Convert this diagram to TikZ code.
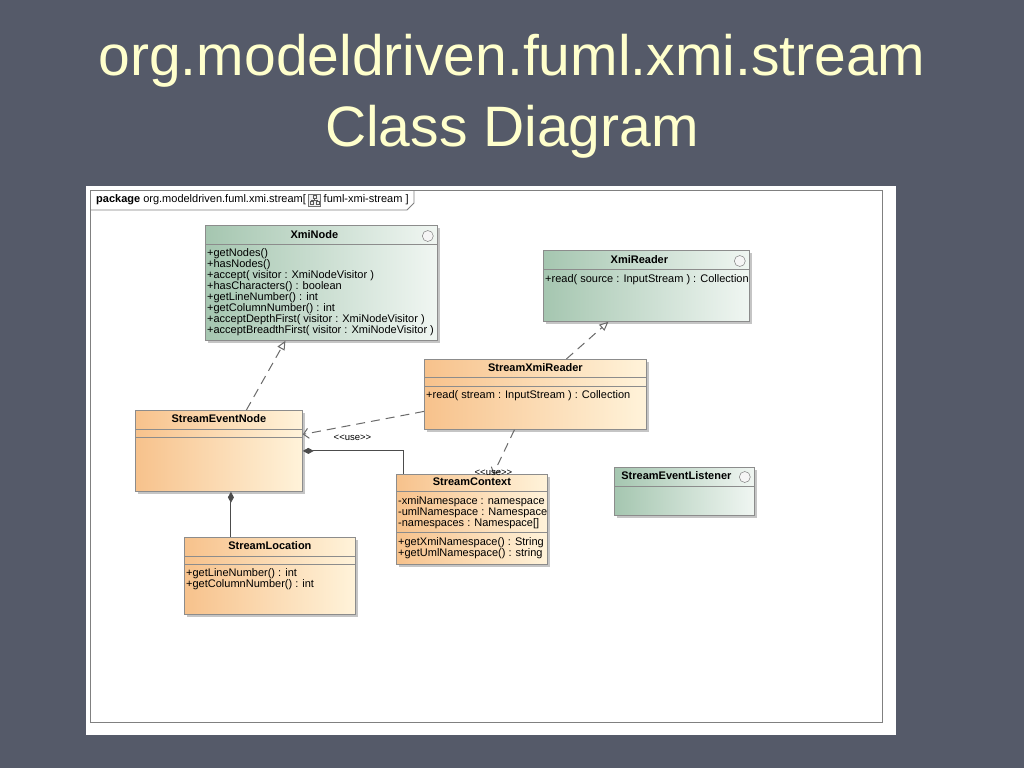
\documentclass[tikz,border=0pt]{standalone}
\usepackage{fontspec}
\setmainfont{Liberation Sans}
\usetikzlibrary{positioning, arrows.meta, calc, shadows}

\definecolor{slidebg}{HTML}{555A69}
\definecolor{titlecol}{HTML}{FFFFCC}
\definecolor{peach}{HTML}{F7C28C}
\definecolor{cream}{HTML}{FFF3DA}
\definecolor{sage}{HTML}{A5C6B0}
\definecolor{mint}{HTML}{F0F6F2}
\definecolor{umlline}{HTML}{6A6A6A}

\newcommand\umlsize{\fontsize{11}{11}\selectfont}

\begin{document}
\begin{tikzpicture}[
  x=1pt, y=-1pt,
  cls/.style={draw=black!45, line width=0.8pt, anchor=north west, inner sep=0pt,
    drop shadow={shadow xshift=3pt, shadow yshift=-3pt, fill=black!45, opacity=0.5}},
  impl/.style={cls, left color=peach, right color=cream},
  iface/.style={cls, left color=sage, right color=mint},
  cname/.style={font=\umlsize\bfseries, inner sep=0pt},
  members/.style={font=\umlsize, align=left, anchor=north west, inner sep=0pt},
  sep/.style={draw=black!45, line width=0.6pt},
  ifmark/.style={circle, draw=black!50, fill=black!4, line width=0.5pt, minimum size=11pt, inner sep=0pt},
  realize/.style={draw=umlline, line width=1pt, dash pattern=on 9pt off 6pt,
    -{Triangle[open, length=9pt, width=8pt]}},
  depend/.style={draw=umlline, line width=1pt, dash pattern=on 9pt off 6pt,
    -{Straight Barb[length=5pt, width=10pt]}},
  compose/.style={draw=black!70, line width=0.9pt, {Diamond[length=11pt, width=6pt]}-},
  uselbl/.style={font=\fontsize{9.5}{10}\selectfont, inner sep=0pt}
]

% slide and title
\fill[slidebg] (0,0) rectangle (1024,768);
\useasboundingbox (0,0) rectangle (1024,768);
\node[text=titlecol, font=\fontsize{57}{60}\selectfont, anchor=base] (title1) at (512,75) {org.modeldriven.fuml.xmi.stream};
\node[text=titlecol, font=\fontsize{57}{60}\selectfont, anchor=base] (title2) at (512,146) {Class Diagram};

% sheet and package frame
\fill[white] (86,186) rectangle (896,735);
\draw[black!50, line width=0.8pt] (90,190) rectangle (882,722);
\draw[black!50, line width=0.8pt] (90,210) -- (407,210) -- (414,203) -- (414,190);
\node[anchor=west, font=\umlsize, inner sep=0pt] (pkg) at (96,200) {\textbf{package} org.modeldriven.fuml.xmi.stream[};
\node[draw=black!55, fill=black!6, minimum size=12pt, inner sep=0pt, right=2pt of pkg] (pkgicon) {};
\node[font=\umlsize, inner sep=0pt, right=3pt of pkgicon] (pkgname) {fuml-xmi-stream ]};
\begin{scope}[shift={(pkgicon.center)}, black!65, line width=0.4pt]
  \draw (-1.5,-4.5) rectangle (1.5,-2);
  \draw (0,-2) -- (0,0) (-3,0) -- (3,0) (-3,0) -- (-3,1.5) (3,0) -- (3,1.5);
  \draw (-4.5,1.5) rectangle (-1.5,4.5) (1.5,1.5) rectangle (4.5,4.5);
\end{scope}

% interfaces
\node[iface, minimum width=232pt, minimum height=115pt] (xmin) at (205,225) {};
\node[cname, below=5pt of xmin.north, xshift=-7pt] (xminname) {XmiNode};
\node[ifmark] (xminmark) at ([xshift=-10pt, yshift=-11pt]xmin.north east) {};
\draw[sep] ([yshift=-19pt]xmin.north west) -- ([yshift=-19pt]xmin.north east);
\node[members] (xminops) at ([xshift=2pt, yshift=-23pt]xmin.north west)
  {+getNodes()\\+hasNodes()\\+accept( visitor : XmiNodeVisitor )\\+hasCharacters() : boolean\\
   +getLineNumber() : int\\+getColumnNumber() : int\\+acceptDepthFirst( visitor : XmiNodeVisitor )\\
   +acceptBreadthFirst( visitor : XmiNodeVisitor )};

\node[iface, minimum width=206pt, minimum height=71pt] (xrd) at (543,250) {};
\node[cname, below=5pt of xrd.north, xshift=-7pt] (xrdname) {XmiReader};
\node[ifmark] (xrdmark) at ([xshift=-10pt, yshift=-11pt]xrd.north east) {};
\draw[sep] ([yshift=-19pt]xrd.north west) -- ([yshift=-19pt]xrd.north east);
\node[members] (xrdops) at ([xshift=2pt, yshift=-24pt]xrd.north west) {+read( source : InputStream ) : Collection};

\node[iface, minimum width=140pt, minimum height=48pt] (sel) at (614,467) {};
\node[cname, below=4pt of sel.north, xshift=-8pt] (selname) {StreamEventListener};
\node[ifmark] (selmark) at ([xshift=-10pt, yshift=-10pt]sel.north east) {};
\draw[sep] ([yshift=-19pt]sel.north west) -- ([yshift=-19pt]sel.north east);

% classes
\node[impl, minimum width=222pt, minimum height=70pt] (sxr) at (424,359) {};
\node[cname, below=4pt of sxr.north] (sxrname) {StreamXmiReader};
\draw[sep] ([yshift=-18pt]sxr.north west) -- ([yshift=-18pt]sxr.north east);
\draw[sep] ([yshift=-27pt]sxr.north west) -- ([yshift=-27pt]sxr.north east);
\node[members] (sxrops) at ([xshift=2pt, yshift=-31pt]sxr.north west) {+read( stream : InputStream ) : Collection};

\node[impl, minimum width=167pt, minimum height=81pt] (sen) at (135,410) {};
\node[cname, below=4pt of sen.north] (senname) {StreamEventNode};
\draw[sep] ([yshift=-19pt]sen.north west) -- ([yshift=-19pt]sen.north east);
\draw[sep] ([yshift=-27pt]sen.north west) -- ([yshift=-27pt]sen.north east);

\node[impl, minimum width=151pt, minimum height=90pt] (sco) at (396,474) {};
\node[cname, below=4pt of sco.north] (sconame) {StreamContext};
\draw[sep] ([yshift=-17pt]sco.north west) -- ([yshift=-17pt]sco.north east);
\node[members] (scoattr) at ([xshift=2pt, yshift=-22pt]sco.north west)
  {-xmiNamespace : namespace\\-umlNamespace : Namespace\\-namespaces : Namespace[]};
\draw[sep] ([yshift=-58pt]sco.north west) -- ([yshift=-58pt]sco.north east);
\node[members] (scoops) at ([xshift=2pt, yshift=-63pt]sco.north west)
  {+getXmiNamespace() : String\\+getUmlNamespace() : string};

\node[impl, minimum width=171pt, minimum height=77pt] (sloc) at (184,537) {};
\node[cname, below=4pt of sloc.north] (slocname) {StreamLocation};
\draw[sep] ([yshift=-19pt]sloc.north west) -- ([yshift=-19pt]sloc.north east);
\draw[sep] ([yshift=-27pt]sloc.north west) -- ([yshift=-27pt]sloc.north east);
\node[members] (slocops) at ([xshift=2pt, yshift=-31pt]sloc.north west)
  {+getLineNumber() : int\\+getColumnNumber() : int};

% realizations
\draw[realize] ([xshift=27.5pt]sen.north) -- ([xshift=-36pt]xmin.south);
\draw[realize] ([xshift=31pt]sxr.north) -- ([xshift=-38pt]xrd.south);

% dependencies
\draw[depend] ([yshift=-17pt]sxr.west) -- ([yshift=16.5pt]sen.east)
  node[uselbl, pos=0.59, below=9pt] (use1) {<{}<use>{}>};
\draw[depend] ([xshift=-21pt]sxr.south) -- ([xshift=21.5pt]sco.north)
  node[uselbl, pos=1, yshift=1pt] (use2) {<{}<use>{}>};

% compositions
\draw[compose] (sen.east) -| ([xshift=-68.5pt]sco.north);
\draw[compose] ([xshift=12pt]sen.south) -- ([xshift=12pt]sen.south |- sloc.north);

\end{tikzpicture}
\end{document}
